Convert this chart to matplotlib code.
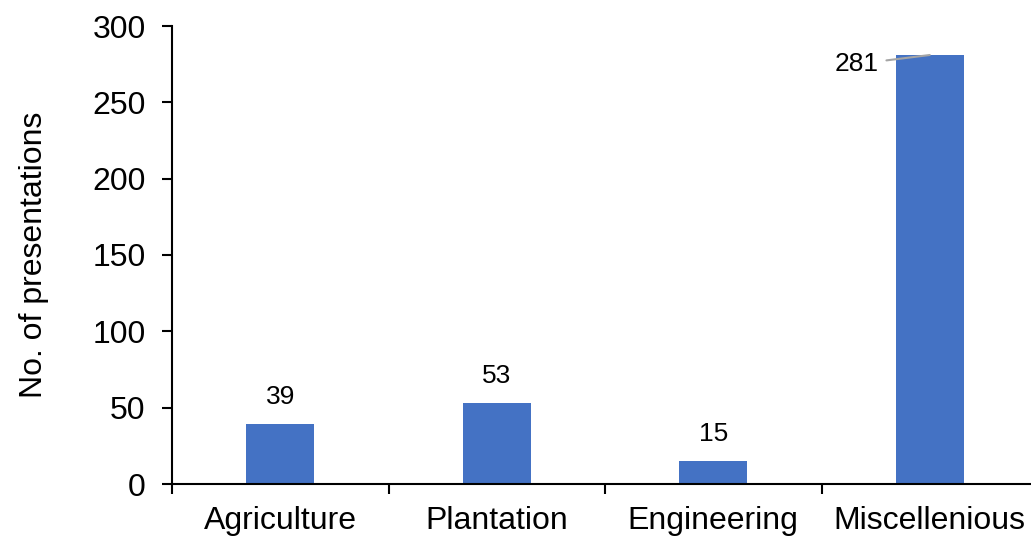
import matplotlib.pyplot as plt
import numpy as np

plt.rcParams['font.family'] = ['Liberation Sans', 'DejaVu Sans']

categories = ['Agriculture', 'Plantation', 'Engineering', 'Miscellenious']
counts = [39, 53, 15, 281]
yticks = [0, 50, 100, 150, 200, 250, 300]

fig = plt.figure(figsize=(10.31, 5.37), dpi=100)
ax = fig.add_axes([172 / 1031, 1 - 484 / 537, 866 / 1031, 458 / 537])

x = np.arange(len(categories))
bars = ax.bar(x, counts, width=0.312, color='#4472C4')

ax.set_xlim(-0.5, len(categories) - 0.5)
ax.set_ylim(0, 300)
ax.set_yticks(yticks)
ax.tick_params(axis='y', labelsize=23, length=7, width=1.5, direction='out', pad=12)

# category labels sit between the boundary ticks
ax.set_xticks(np.arange(len(categories) + 1) - 0.5)
ax.set_xticklabels([])
ax.set_xticks(x, minor=True)
ax.set_xticklabels(categories, minor=True, fontsize=23)
ax.tick_params(axis='x', which='major', length=7, width=1.5, direction='out')
ax.tick_params(axis='x', which='minor', length=0, pad=16)

for s in ['top', 'right']:
    ax.spines[s].set_visible(False)
for s in ['left', 'bottom']:
    ax.spines[s].set_linewidth(1.5)

ax.set_ylabel('No. of presentations', fontsize=23, labelpad=31)

# value labels
for i, v in enumerate(counts[:-1]):
    ax.text(x[i], v + 18, str(v), ha='center', va='center', fontsize=19)

# last bar: label pulled to the left with a leader line
i = len(counts) - 1
ax.annotate(str(counts[i]), xy=(x[i], counts[i]), xytext=(x[i] - 0.34, counts[i] - 6),
            ha='center', va='center', fontsize=19,
            arrowprops=dict(arrowstyle='-', color='#A5A5A5', lw=1.5, shrinkA=4, shrinkB=0))

fig.savefig('out.png', dpi=100)
